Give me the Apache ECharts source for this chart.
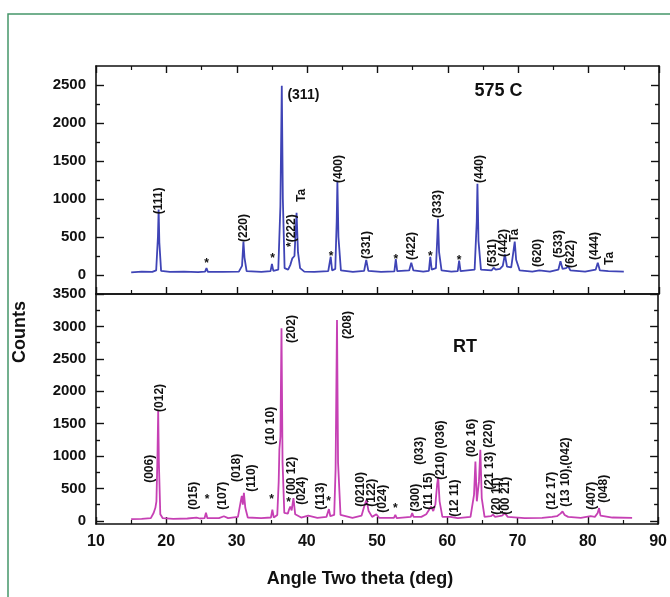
<!DOCTYPE html>
<html>
<head>
<meta charset="utf-8">
<script src="https://cdn.jsdelivr.net/npm/echarts@6/dist/echarts.min.js"></script>
<style>
  html, body { margin: 0; padding: 0; background: #fff; }
  #chart { width: 670px; height: 597px; }
</style>
</head>
<body>
<div id="chart"></div>
<script>
// X-ray diffraction patterns: spinel phase annealed at 575 C (top) and as-grown RT phase (bottom)

// 575 C pattern: [2-theta (deg), counts]
const pattern575 = [
  [15.0, 35], [16.5, 45], [18.0, 40], [18.55, 60], [18.8, 500], [18.9, 860], [19.0, 430], [19.25, 55],
  [20.5, 40], [22.5, 45], [24.5, 38], [25.5, 45], [25.7, 90], [25.9, 42], [28.0, 40], [30.3, 45],
  [30.75, 120], [30.95, 440], [31.1, 230], [31.4, 50], [33.5, 42], [34.8, 50], [35.0, 145], [35.2, 55],
  [35.9, 70], [36.2, 900], [36.4, 2490], [36.55, 1000], [36.8, 90], [37.3, 70], [37.6, 130], [37.9, 220],
  [38.2, 250], [38.5, 820], [38.7, 300], [39.0, 90], [39.6, 45], [41.0, 42], [43.0, 50], [43.35, 240],
  [43.55, 60], [44.0, 80], [44.2, 700], [44.3, 1230], [44.45, 500], [44.8, 60], [46.5, 40], [48.1, 55],
  [48.4, 200], [48.7, 55], [50.5, 40], [52.4, 48], [52.6, 210], [52.8, 50], [54.5, 60], [54.8, 160],
  [55.1, 60], [56.5, 45], [57.3, 55], [57.5, 240], [57.7, 70], [58.3, 90], [58.5, 500], [58.6, 740],
  [58.75, 300], [59.1, 60], [60.5, 45], [61.4, 50], [61.6, 190], [61.8, 50], [63.8, 70], [64.1, 700],
  [64.2, 1200], [64.35, 450], [64.7, 70], [66.2, 60], [66.5, 95], [66.8, 70], [67.4, 80], [67.8, 120],
  [68.1, 270], [68.4, 110], [69.0, 100], [69.3, 300], [69.5, 440], [69.7, 200], [70.2, 60], [72.0, 45],
  [73.0, 60], [74.5, 45], [75.7, 70], [76.0, 180], [76.3, 80], [76.8, 90], [77.1, 115], [77.4, 60],
  [79.5, 45], [81.0, 70], [81.3, 160], [81.6, 60], [82.4, 55], [82.6, 70], [82.8, 50], [85.0, 45]
];

// RT pattern: [2-theta (deg), counts]
const patternRT = [
  [15.0, 25], [16.5, 30], [17.8, 40], [18.2, 120], [18.45, 200], [18.6, 300], [18.75, 1000], [18.85, 1700],
  [18.95, 900], [19.15, 100], [19.5, 40], [21.0, 30], [23.0, 35], [24.3, 50], [24.8, 35], [25.45, 40],
  [25.65, 125], [25.85, 40], [27.5, 40], [28.2, 70], [28.8, 40], [30.2, 60], [30.6, 300], [30.75, 385],
  [30.9, 250], [31.05, 430], [31.25, 200], [31.6, 50], [33.5, 40], [34.9, 50], [35.1, 170], [35.3, 50],
  [35.8, 90], [36.0, 600], [36.1, 1100], [36.25, 1300], [36.4, 2970], [36.55, 900], [36.8, 120], [37.3, 110],
  [37.5, 180], [37.65, 220], [37.85, 160], [38.1, 350], [38.35, 100], [39.2, 50], [40.2, 80], [41.5, 45],
  [42.8, 60], [43.15, 180], [43.35, 70], [43.9, 90], [44.1, 800], [44.3, 3100], [44.45, 900], [44.8, 90],
  [46.5, 45], [47.8, 80], [48.2, 230], [48.5, 324], [48.8, 150], [49.3, 60], [49.9, 100], [50.3, 45],
  [52.4, 45], [52.6, 90], [52.8, 40], [54.8, 60], [55.0, 118], [55.2, 60], [56.3, 60], [57.0, 100],
  [57.7, 220], [58.0, 150], [58.3, 250], [58.55, 560], [58.7, 673], [58.9, 300], [59.3, 60], [60.4, 60],
  [61.5, 40], [63.3, 60], [63.8, 400], [64.0, 914], [64.2, 300], [64.5, 600], [64.7, 1094], [64.9, 350],
  [65.3, 60], [66.2, 70], [66.5, 95], [66.8, 60], [67.8, 80], [68.2, 118], [68.6, 60], [71.0, 40],
  [73.5, 45], [74.9, 60], [75.6, 70], [76.1, 110], [76.4, 143], [76.7, 90], [77.2, 60], [79.0, 45],
  [80.4, 70], [81.0, 60], [81.4, 120], [81.6, 196], [81.8, 80], [83.5, 50], [86.3, 45]
];

// Reflection indices: [text, 2-theta, counts at the start of the vertical label]
const peakLabels575 = [
  ['(111)', 18.9, 800], ['(220)', 31.0, 434], ['*(222)', 37.8, 368], ['Ta', 39.2, 960],
  ['(400)', 44.5, 1210], ['(331)', 48.4, 210], ['(422)', 54.8, 197], ['(333)', 58.6, 750],
  ['(440)', 64.5, 1210], ['(531)', 66.4, 105], ['(442)', 67.9, 237], ['Ta', 69.5, 434],
  ['(620)', 72.8, 105], ['(533)', 75.7, 224], ['(622)', 77.5, 92], ['(444)', 80.9, 197],
  ['Ta', 83.0, 131]
];
const stars575 = [[25.7, 150], [35.1, 210], [43.4, 237], [52.6, 197], [57.5, 237], [61.6, 184]];

const peakLabelsRT = [
  ['(006)', 17.6, 585], ['(012)', 19.1, 1680], ['(015)', 23.9, 170], ['(107)', 28.1, 170],
  ['(018)', 30.0, 600], ['(110)', 32.1, 447], ['(10 10)', 34.8, 1171], ['(202)', 37.9, 2743],
  ['(00 12)', 37.8, 400], ['(024)', 39.3, 246], ['(113)', 41.96, 170], ['(208)', 45.8, 2804],
  ['(0210)', 47.7, 216], ['(122)', 49.2, 216], ['(024)', 50.8, 123], ['(300)', 55.5, 139],
  ['(033)', 56.0, 863], ['(11 15)', 57.4, 170], ['(210) (036)', 59.0, 632], ['(12 11)', 61.0, 62],
  ['(02 16)', 63.4, 986], ['(220)', 65.9, 1125], ['(21 13)', 66.0, 480], ['(20 11)', 67.0, 92],
  ['(00 21)', 68.3, 92], ['(12 17)', 74.9, 170], ['(13 10),(042)', 76.8, 216], ['(407)', 80.6, 170],
  ['(048)', 82.3, 277]
];
const starsRT = [[25.8, 324], [35.0, 324], [37.4, 282], [43.1, 297], [52.6, 180]];

// Panel captions: [text, 2-theta, counts]
const caption575 = ['575 C', 67.2, 2421];
const captionMain575 = ['(311)', 37.2, 2368];
const captionRT = ['RT', 62.5, 2686];

// Axis ticks
const yMajor575 = [0, 500, 1000, 1500, 2000, 2500];
const yMinor575 = [250, 750, 1250, 1750, 2250];
const yMajorRT = [0, 500, 1000, 1500, 2000, 2500, 3000, 3500];
const yMinorRT = [250, 750, 1250, 1750, 2250, 2750, 3250];

const FONT = '"Liberation Sans", Arial, sans-serif';
const INK = '#111';
const BLUE = '#3f44b6';
const MAGENTA = '#c640b4';

const chart = echarts.init(document.getElementById('chart'), null, { renderer: 'canvas' });

function xAxisDef(grid, position, withTicks, withLabels) {
  return {
    type: 'value', gridIndex: grid, position: position, min: 10, max: 90, interval: 10,
    axisLine: { show: true, onZero: false, lineStyle: { color: INK, width: 1.6 } },
    axisTick: { show: withTicks, inside: true, length: 7, lineStyle: { color: INK, width: 1.4 } },
    minorTick: { show: withTicks, splitNumber: 2, length: 4, lineStyle: { color: INK, width: 1.2 } },
    axisLabel: {
      show: withLabels, margin: 10, fontSize: 16, fontWeight: 'bold', fontFamily: FONT, color: INK,
      formatter: v => String(v)
    },
    splitLine: { show: false }
  };
}

function yAxisDef(grid, position, min, max, ticks, len, withLabels, withLine) {
  return {
    type: 'value', gridIndex: grid, position: position, min: min, max: max,
    axisLine: { show: withLine, onZero: false, lineStyle: { color: INK, width: 1.6 } },
    axisTick: { show: true, inside: true, length: len, customValues: ticks, lineStyle: { color: INK, width: 1.4 } },
    axisLabel: {
      show: withLabels, customValues: ticks, margin: 10, fontSize: 15, fontWeight: 'bold',
      fontFamily: FONT, color: INK, formatter: v => String(v)
    },
    splitLine: { show: false }
  };
}

// Text annotations anchored at data coordinates of a panel
function labelSeries(xi, yi, items, rotate, fontSize, align) {
  return {
    type: 'scatter', xAxisIndex: xi, yAxisIndex: yi, symbolSize: 1, silent: true, animation: false,
    itemStyle: { color: 'rgba(0,0,0,0)', opacity: 1 },
    labelLayout: { hideOverlap: false },
    data: items.map(([t, x, y]) => ({ value: [x, y], label: { formatter: t } })),
    label: {
      show: true, position: 'inside', rotate: rotate, align: align, verticalAlign: 'middle',
      fontSize: fontSize, fontWeight: 'bold', fontFamily: FONT, color: INK, opacity: 1
    },
    z: 5
  };
}

function starSeries(xi, yi, pts) {
  return labelSeries(xi, yi, pts.map(([x, y]) => ['*', x, y]), 0, 12, 'center');
}

const option = {
  backgroundColor: '#fff',
  animation: false,
  grid: [
    { left: 96, right: 11, top: 66, height: 228, containLabel: false },
    { left: 96, right: 11, top: 294, height: 230, containLabel: false }
  ],
  xAxis: [
    xAxisDef(0, 'bottom', true, false),
    xAxisDef(0, 'top', true, false),
    xAxisDef(1, 'bottom', true, true),
    xAxisDef(1, 'top', false, false)
  ],
  yAxis: [
    yAxisDef(0, 'left', -250, 2750, yMajor575, 8, true, true),
    yAxisDef(0, 'left', -250, 2750, yMinor575, 4, false, false),
    yAxisDef(0, 'right', -250, 2750, yMajor575, 8, false, true),
    yAxisDef(0, 'right', -250, 2750, yMinor575, 4, false, false),
    yAxisDef(1, 'left', -50, 3500, yMajorRT, 8, true, true),
    yAxisDef(1, 'left', -50, 3500, yMinorRT, 4, false, false),
    yAxisDef(1, 'right', -50, 3500, yMajorRT, 8, false, true),
    yAxisDef(1, 'right', -50, 3500, yMinorRT, 4, false, false)
  ],
  series: [
    {
      type: 'line', xAxisIndex: 0, yAxisIndex: 0, data: pattern575, showSymbol: false,
      lineStyle: { color: BLUE, width: 1.8 }, z: 3
    },
    {
      type: 'line', xAxisIndex: 2, yAxisIndex: 4, data: patternRT, showSymbol: false,
      lineStyle: { color: MAGENTA, width: 1.8 }, z: 3
    },
    labelSeries(0, 0, peakLabels575, 90, 12, 'left'),
    starSeries(0, 0, stars575),
    labelSeries(0, 0, [captionMain575], 0, 14, 'left'),
    labelSeries(0, 0, [caption575], 0, 18, 'center'),
    labelSeries(2, 4, peakLabelsRT, 90, 12, 'left'),
    starSeries(2, 4, starsRT),
    labelSeries(2, 4, [captionRT], 0, 18, 'center')
  ],
  graphic: [
    {
      type: 'rect', silent: true, z: -1,
      shape: { x: 8, y: 14, width: 700, height: 700 },
      style: { fill: 'none', stroke: '#46966a', lineWidth: 1.5 }
    },
    {
      type: 'text', x: 20, y: 332, rotation: Math.PI / 2,
      style: {
        text: 'Counts', font: 'bold 18px ' + FONT, fill: INK,
        textAlign: 'center', textVerticalAlign: 'middle'
      }
    },
    {
      type: 'text', x: 360, y: 579,
      style: {
        text: 'Angle Two theta (deg)', font: 'bold 18px ' + FONT, fill: INK,
        textAlign: 'center', textVerticalAlign: 'middle'
      }
    }
  ]
};

chart.setOption(option);
</script>
</body>
</html>
